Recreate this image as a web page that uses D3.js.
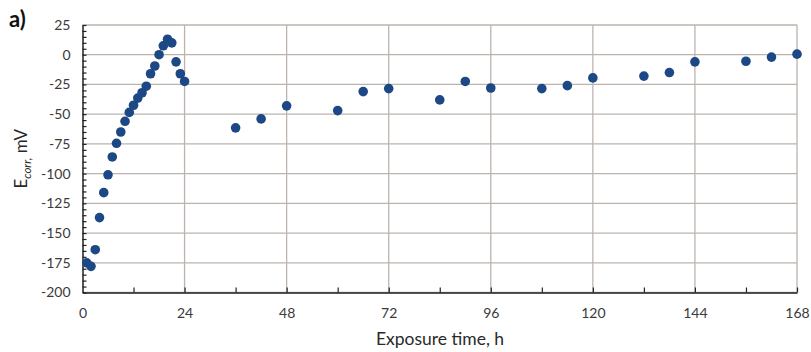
<!DOCTYPE html>
<html><head><meta charset="utf-8">
<script src="https://cdn.jsdelivr.net/npm/d3@7"></script>
<style>body{margin:0;background:#fff}svg{display:block}</style>
</head><body><svg id="c" width="811" height="352"></svg>
<script>
const times = [1,2,3,4,5,6,7,8,9,10,11,12,13,14,15,16,17,18,19,20,21,22,23,24,
  36,42,48,60,66,72,84,90,96,108,114,120,132,138,144,156,162,168];
const ecorr = [-175,-178,-164,-137,-116,-101,-86,-74.5,-65,-56,-48.5,-42.5,-36.5,-32,-26.5,-16,-9.5,0,7.5,13,10,-6,-16,-22.5,
  -61.5,-54,-43,-47,-31,-28.5,-38,-22.5,-28,-28.5,-26,-19.5,-18,-15,-6,-5.5,-2,0.5];
const xTicks = [0,24,48,72,96,120,144,168];
const yTicks = [25,0,-25,-50,-75,-100,-125,-150,-175,-200];

const svg = d3.select("#c");
const font = "Lato, 'Open Sans', sans-serif";
const L = 82.5, R = 797, T = 25, B = 292.5;
const x = d3.scaleLinear().domain([0,168]).range([L,R]);
const y = d3.scaleLinear().domain([-200,25]).range([B,T]);
const grid = "#bcb4ad";
const fmt = d => String(d);

// gridlines
svg.append("g").selectAll("line").data(yTicks).join("line")
  .attr("x1",L).attr("x2",R).attr("y1",d=>y(d)).attr("y2",d=>y(d))
  .attr("stroke",grid).attr("stroke-width",1.3);
svg.append("g").selectAll("line").data(xTicks.slice(1)).join("line")
  .attr("x1",d=>x(d)).attr("x2",d=>x(d)).attr("y1",T).attr("y2",B)
  .attr("stroke",grid).attr("stroke-width",1.3);

// y axis with minor ticks inward
const yAx = svg.append("g").attr("transform",`translate(${L},0)`)
  .call(d3.axisLeft(y).tickValues(yTicks).tickSize(0).tickPadding(12).tickFormat(fmt));
yAx.select(".domain").attr("stroke","#222").attr("stroke-width",1.5);
yAx.selectAll("text").attr("font-family",font).attr("font-size",14).attr("fill","#3a3a3a");
svg.append("g").attr("transform",`translate(${L},0)`)
  .call(d3.axisRight(y).tickValues(d3.range(-200,25.1,5)).tickSize(4).tickFormat(""))
  .call(g=>{g.select(".domain").remove();g.selectAll("line").attr("stroke","#222").attr("stroke-width",1.2);});

// x axis with ticks inward
const xAx = svg.append("g").attr("transform",`translate(0,${B})`)
  .call(d3.axisBottom(x).tickValues(xTicks).tickSize(0).tickPadding(16).tickFormat(fmt));
xAx.select(".domain").attr("stroke","#222").attr("stroke-width",1.5);
xAx.selectAll("text").attr("font-family",font).attr("font-size",14).attr("fill","#3a3a3a");
svg.append("g").attr("transform",`translate(0,${B})`)
  .call(d3.axisTop(x).tickValues(d3.range(12,168.1,12)).tickSize(5).tickFormat(""))
  .call(g=>{g.select(".domain").remove();g.selectAll("line").attr("stroke","#222").attr("stroke-width",1.2);});

// points
svg.append("g").selectAll("circle").data(times.map((t,i)=>[t,ecorr[i]])).join("circle")
  .attr("cx",d=>x(d[0])).attr("cy",d=>y(d[1])).attr("r",4.8).attr("fill","#1c4885");

// labels
svg.append("text").attr("x",9).attr("y",27).attr("font-family",font).attr("font-weight","bold")
  .attr("font-size",22).attr("fill","#111").text("a)");
const yl = svg.append("text").attr("transform",`translate(27,${(T+B)/2}) rotate(-90)`)
  .attr("text-anchor","middle").attr("font-family",font).attr("font-size",17).attr("fill","#2a2a2a");
yl.append("tspan").text("E");
yl.append("tspan").attr("font-size",11.5).attr("font-style","italic").attr("dy",4).text("corr,");
yl.append("tspan").attr("dy",-4).text(" mV");
svg.append("text").attr("x",440).attr("y",345).attr("text-anchor","middle")
  .attr("font-family",font).attr("font-size",17.5).attr("fill","#2a2a2a").text("Exposure time, h");
</script></body></html>
